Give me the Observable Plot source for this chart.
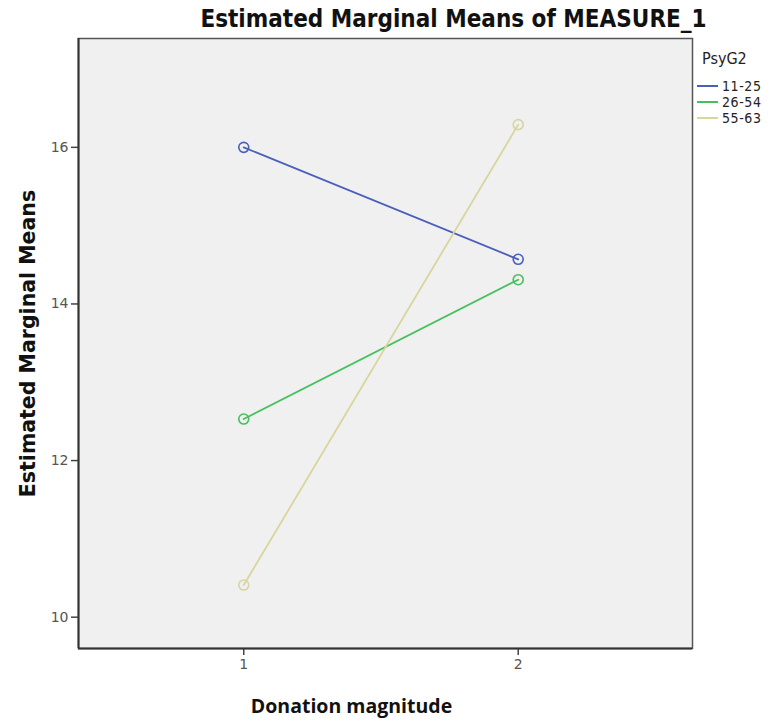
<!DOCTYPE html>
<html>
<head>
<meta charset="utf-8">
<script src="https://cdn.jsdelivr.net/npm/d3@7"></script>
<script src="https://cdn.jsdelivr.net/npm/@observablehq/plot@0.6"></script>
<style>
  html, body { margin: 0; padding: 0; background: #fff; }
  #wrap { position: relative; width: 774px; height: 722px; }
  #legend { position: absolute; left: 697px; top: 49px; font-family: "DejaVu Sans", sans-serif; color: #222; }
  #legend .ttl { font-family: "DejaVu Sans Condensed", "DejaVu Sans", sans-serif; font-size: 16px; margin-left: 5px; margin-bottom: 10px; }
  #legend .item { display: flex; align-items: center; height: 16px; font-size: 14px; font-family: "DejaVu Sans Condensed", sans-serif; letter-spacing: 0.6px; }
  #legend .sw { width: 21px; height: 0; border-top: 2px solid; margin-right: 4px; }
</style>
</head>
<body>
<div id="wrap"></div>
<script>
const groups = ["11-25", "26-54", "55-63"];
const magnitudes = [1, 2];
const means_11_25 = [16.0, 14.57];
const means_26_54 = [12.53, 14.31];
const means_55_63 = [10.41, 16.29];
const groupColors = ["#4a5fba", "#45c05c", "#d8d59d"];
const yTicks = [10, 12, 14, 16];
const xTicks = [1, 2];
const titleText = "Estimated Marginal Means of MEASURE_1";
const yLabel = "Estimated Marginal Means";
const xLabel = "Donation magnitude";
const legendTitle = "PsyG2";

const series = [means_11_25, means_26_54, means_55_63];
const data = [];
groups.forEach((g, i) => magnitudes.forEach((m, j) => data.push({group: g, magnitude: m, mean: series[i][j]})));

const plot = Plot.plot({
  width: 774,
  height: 722,
  marginLeft: 78,
  marginRight: 82,
  marginTop: 38,
  marginBottom: 74,
  style: {background: "transparent", fontFamily: "DejaVu Sans, sans-serif"},
  x: {domain: [0.398, 2.635], axis: null},
  y: {domain: [9.6, 17.39], axis: null},
  color: {domain: groups, range: groupColors},
  marks: [
    Plot.frame({fill: "#f0f0f0", stroke: "#555", strokeWidth: 1.5}),
    Plot.axisY(yTicks, {tickSize: 7, tickPadding: 3, stroke: "#444", strokeWidth: 1.5, fill: "#555", fontSize: 14, tickFormat: "d", label: null}),
    Plot.axisX(xTicks, {tickSize: 7, tickPadding: 4, stroke: "#444", strokeWidth: 1.5, fill: "#555", fontSize: 14, tickFormat: "d", label: null}),
    Plot.ruleY([9.6], {stroke: "#333", strokeWidth: 2}),
    Plot.ruleX([0.398], {stroke: "#333", strokeWidth: 2}),
    Plot.line(data, {x: "magnitude", y: "mean", z: "group", stroke: "group", strokeWidth: 1.8}),
    Plot.dot(data, {x: "magnitude", y: "mean", stroke: "group", r: 5, strokeWidth: 1.6, fill: "none"}),
    Plot.text([titleText], {frameAnchor: "top", dx: 68, dy: -29, fontSize: 24, fontWeight: "bold", fontFamily: "DejaVu Sans Condensed, sans-serif", fill: "#111"}),
    Plot.text([yLabel], {frameAnchor: "left", textAnchor: "middle", dx: -50, rotate: -90, fontSize: 20.5, fontWeight: "bold", fill: "#111"}),
    Plot.text([xLabel], {frameAnchor: "bottom", textAnchor: "middle", dx: -34, dy: 64, fontSize: 19.5, fontWeight: "bold", fontFamily: "Open Sans, sans-serif", fill: "#111"})
  ]
});
document.getElementById("wrap").appendChild(plot);

const legend = document.createElement("div");
legend.id = "legend";
const lt = document.createElement("div");
lt.className = "ttl";
lt.textContent = legendTitle;
legend.appendChild(lt);
groups.forEach((g, i) => {
  const it = document.createElement("div");
  it.className = "item";
  const sw = document.createElement("span");
  sw.className = "sw";
  sw.style.borderTopColor = groupColors[i];
  const tx = document.createElement("span");
  tx.textContent = g;
  it.appendChild(sw);
  it.appendChild(tx);
  legend.appendChild(it);
});
document.getElementById("wrap").appendChild(legend);
</script>
</body>
</html>
